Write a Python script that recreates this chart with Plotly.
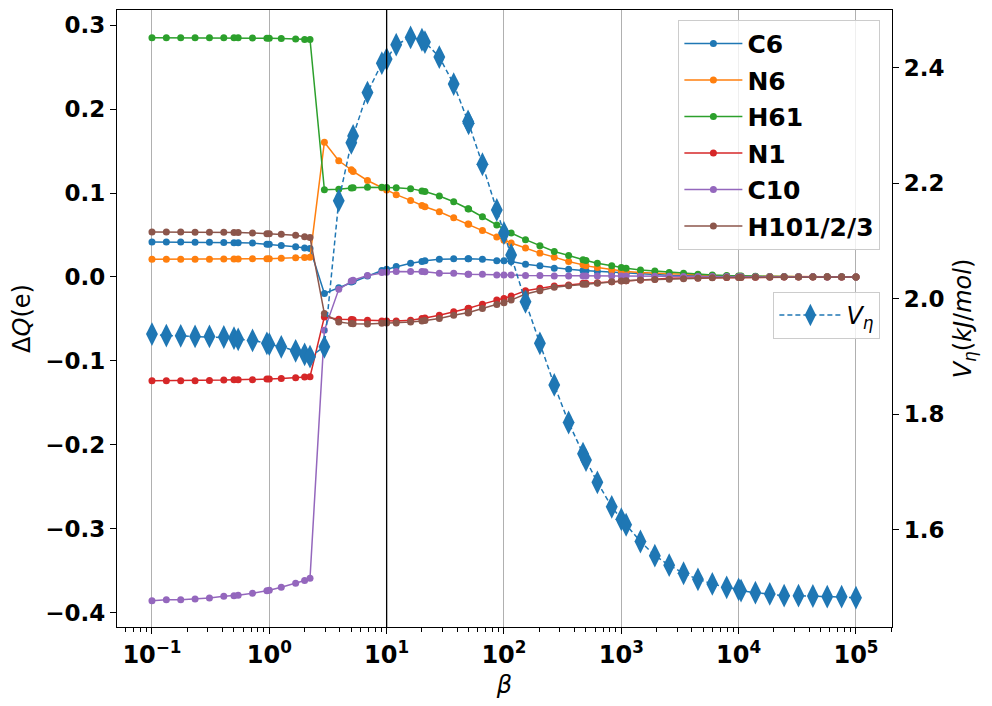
import plotly.graph_objects as go

beta = [0.1, 0.1326, 0.1758, 0.2330, 0.3089, 0.4095, 0.5, 0.5429, 0.7197, 0.9541,
        1.0, 1.265, 1.677, 2.0, 2.223, 2.947, 3.907, 5.0, 5.179, 6.866,
        9.103, 10.0, 12.07, 16.00, 20.0, 21.21, 28.12, 37.28, 49.42, 50.0,
        65.51, 86.85, 100.0, 115.1, 152.6, 202.4, 268.3, 355.7, 471.5, 500.0,
        625.1, 828.6, 1000.0, 1099.0, 1456.0, 1931.0, 2560.0, 3393.0, 4498.0, 5964.0,
        7906.0, 10000.0, 10481.0, 13895.0, 18421.0, 24421.0, 32375.0, 42919.0, 56899.0, 75431.0,
        100000.0]

q_c6 = [0.0416, 0.0416, 0.0416, 0.0414, 0.0412, 0.0410, 0.0408, 0.0408, 0.0404, 0.0390,
        0.0390, 0.0376, 0.0360, 0.0345, 0.0340, -0.0196, -0.0128, -0.0060, -0.0052, 0.0010,
        0.0076, 0.0092, 0.0124, 0.0164, 0.0184, 0.0192, 0.0212, 0.0216, 0.0216, 0.0216,
        0.0212, 0.0194, 0.0192, 0.0184, 0.0152, 0.0132, 0.0104, 0.0092, 0.0076, 0.0074,
        0.0064, 0.0052, 0.0044, 0.0042, 0.0036, 0.0024, 0.0020, 0.0016, 0.0012, 0.0010,
        0.0008, 0.0006, 0.0006, 0.0004, 0.0003, 0.0002, 0.0002, 0.0001, 0.0001, 0.0001,
        0.0]
q_n6 = [0.0212, 0.0212, 0.0212, 0.0212, 0.0212, 0.0214, 0.0214, 0.0214, 0.0216, 0.0218,
        0.0218, 0.0224, 0.0228, 0.0232, 0.0236, 0.1605, 0.1384, 0.1277, 0.1257, 0.1149,
        0.1064, 0.1036, 0.0980, 0.0912, 0.0852, 0.0836, 0.0776, 0.0704, 0.0632, 0.0628,
        0.0552, 0.0476, 0.0436, 0.0404, 0.0344, 0.0284, 0.0236, 0.0184, 0.0144, 0.0132,
        0.0112, 0.0084, 0.0072, 0.0064, 0.0052, 0.0044, 0.0036, 0.0028, 0.0022, 0.0016,
        0.0012, 0.0009, 0.0009, 0.0006, 0.0004, 0.0003, 0.0002, 0.0001, 0.0001, 0.0,
        0.0]
q_h61 = [0.2850, 0.2850, 0.2850, 0.2850, 0.2850, 0.2850, 0.2848, 0.2848, 0.2845, 0.2843,
         0.2843, 0.2840, 0.2835, 0.2830, 0.2828, 0.1040, 0.1045, 0.1060, 0.1064, 0.1070,
         0.1068, 0.1066, 0.1064, 0.1052, 0.1024, 0.1017, 0.0964, 0.0896, 0.0812, 0.0808,
         0.0716, 0.0620, 0.0564, 0.0524, 0.0444, 0.0372, 0.0304, 0.0256, 0.0204, 0.0196,
         0.0164, 0.0132, 0.0112, 0.0104, 0.0084, 0.0072, 0.0052, 0.0044, 0.0032, 0.0024,
         0.0016, 0.0012, 0.0012, 0.0008, 0.0006, 0.0004, 0.0003, 0.0002, 0.0001, 0.0001,
         0.0]
q_n1 = [-0.1237, -0.1237, -0.1237, -0.1237, -0.1233, -0.1229, -0.1225, -0.1225, -0.1225, -0.1217,
        -0.1217, -0.1209, -0.1201, -0.1193, -0.1189, -0.0476, -0.0504, -0.0508, -0.0510, -0.0516,
        -0.0524, -0.0524, -0.0524, -0.0516, -0.0496, -0.0488, -0.0456, -0.0416, -0.0376, -0.0372,
        -0.0324, -0.0276, -0.0256, -0.0228, -0.0164, -0.0136, -0.0108, -0.0096, -0.0076, -0.0074,
        -0.0068, -0.0056, -0.0046, -0.0044, -0.0036, -0.0028, -0.0016, -0.0014, -0.0012, -0.0008,
        -0.0006, -0.0004, -0.0004, -0.0003, -0.0002, -0.0002, -0.0001, -0.0001, -0.0001, 0.0,
        0.0]
q_c10 = [-0.3857, -0.3845, -0.3845, -0.3837, -0.3825, -0.3805, -0.3797, -0.3793, -0.3769, -0.3737,
         -0.3733, -0.3697, -0.3649, -0.3617, -0.3589, -0.0636, -0.0148, -0.0048, -0.0040, 0.0016,
         0.0052, 0.0056, 0.0064, 0.0064, 0.0064, 0.0062, 0.0044, 0.0044, 0.0032, 0.0032,
         0.0032, 0.0024, 0.0024, 0.0024, 0.0016, 0.0016, 0.0012, 0.0012, 0.0012, 0.0012,
         0.0010, 0.0010, 0.0010, 0.0010, 0.0009, 0.0008, 0.0008, 0.0006, 0.0005, 0.0004,
         0.0004, 0.0003, 0.0003, 0.0002, 0.0002, 0.0001, 0.0001, 0.0001, 0.0, 0.0,
         0.0]
q_h101 = [0.0536, 0.0536, 0.0536, 0.0532, 0.0532, 0.0532, 0.0528, 0.0528, 0.0524, 0.0516,
          0.0516, 0.0508, 0.0496, 0.0480, 0.0470, -0.0436, -0.0536, -0.0556, -0.0558, -0.0560,
          -0.0552, -0.0548, -0.0548, -0.0536, -0.0524, -0.0520, -0.0496, -0.0456, -0.0428, -0.0424,
          -0.0376, -0.0328, -0.0308, -0.0276, -0.0204, -0.0164, -0.0124, -0.0104, -0.0088, -0.0086,
          -0.0076, -0.0056, -0.0048, -0.0046, -0.0036, -0.0030, -0.0028, -0.0020, -0.0016, -0.0010,
          -0.0008, -0.0006, -0.0006, -0.0004, -0.0003, -0.0002, -0.0002, -0.0001, -0.0001, 0.0,
          0.0]
v_eta = [1.939, 1.9365, 1.936, 1.935, 1.935, 1.934, 1.932, 1.930, 1.928, 1.923,
         1.9215, 1.917, 1.910, 1.904, 1.900, 1.917, 2.170, 2.270, 2.282, 2.357,
         2.408, 2.415, 2.440, 2.4525, 2.4485, 2.4445, 2.4185, 2.3717, 2.307, 2.304,
         2.233, 2.154, 2.114, 2.076, 1.995, 1.923, 1.851, 1.786, 1.732, 1.721,
         1.6825, 1.640, 1.6185, 1.609, 1.580, 1.5555, 1.539, 1.525, 1.5146, 1.5065,
         1.5007, 1.4973, 1.495, 1.4914, 1.4892, 1.4863, 1.4863, 1.4857, 1.4845, 1.4845,
         1.4828]

series_names = ["C6", "N6", "H61", "N1", "C10", "H101/2/3"]
series_vals = [q_c6, q_n6, q_h61, q_n1, q_c10, q_h101]
colors = ["#1f77b4", "#ff7f0e", "#2ca02c", "#d62728", "#9467bd", "#8c564b"]

x_tickvals = [0.1, 1, 10, 100, 1000, 10000, 100000]
x_ticktext = ["10<sup>−1</sup>", "10<sup>0</sup>", "10<sup>1</sup>", "10<sup>2</sup>",
              "10<sup>3</sup>", "10<sup>4</sup>", "10<sup>5</sup>"]
y_tickvals = [0.3, 0.2, 0.1, 0.0, -0.1, -0.2, -0.3, -0.4]
y_ticktext = ["0.3", "0.2", "0.1", "0.0", "−0.1", "−0.2", "−0.3", "−0.4"]
y2_tickvals = [1.6, 1.8, 2.0, 2.2, 2.4]
y2_ticktext = ["1.6", "1.8", "2.0", "2.2", "2.4"]
ref_beta = 10

minor_vals = [m * 10 ** e for e in range(-2, 6) for m in range(2, 10)]

FONT = "DejaVu Sans"
TICK = 23
fig = go.Figure()

for name, vals, col in zip(series_names, series_vals, colors):
    fig.add_trace(go.Scatter(
        x=beta, y=vals, name=name, mode="lines+markers",
        line=dict(color=col, width=1.5),
        marker=dict(symbol="circle", size=7, color=col),
        legend="legend", legendgroup=name, yaxis="y"))

fig.add_trace(go.Scatter(
    x=beta, y=v_eta, name="<i>V</i><sub><i>η</i></sub>", mode="lines+markers",
    line=dict(color="#1f77b4", width=1.5, dash="5px,3px"),
    marker=dict(symbol="diamond-tall", size=17, color="#1f77b4"),
    legend="legend2", yaxis="y2"))

fig.add_shape(type="line", xref="x", yref="paper", x0=ref_beta, x1=ref_beta, y0=0, y1=1,
              line=dict(color="black", width=1.3), layer="above")

fig.update_layout(
    width=984, height=698,
    margin=dict(l=109, r=100, t=2, b=79, autoexpand=False),
    paper_bgcolor="white", plot_bgcolor="white",
    font=dict(family=FONT, color="black"),
    showlegend=True,
    xaxis=dict(
        type="log", range=[-1.298, 5.307], automargin=False,
        tickmode="array", tickvals=x_tickvals, ticktext=x_ticktext,
        tickfont=dict(size=24, family=FONT, weight="bold"),
        ticks="outside", ticklen=6, tickwidth=1.2, tickcolor="black",
        showgrid=True, gridcolor="#b0b0b0", gridwidth=1,
        showline=True, linecolor="black", linewidth=1.3, mirror=True,
        zeroline=False,
        minor=dict(tickmode="array", tickvals=minor_vals, ticks="outside",
                   ticklen=3.5, tickcolor="black", tickwidth=1, showgrid=False),
        title=dict(text="<i>β</i>", font=dict(size=24, family=FONT), standoff=8),
    ),
    yaxis=dict(
        range=[-0.417, 0.318], automargin=False,
        tickmode="array", tickvals=y_tickvals, ticktext=y_ticktext,
        tickfont=dict(size=TICK, family=FONT, weight="bold"),
        ticks="outside", ticklen=6, tickwidth=1.2, tickcolor="black",
        showgrid=False, zeroline=False,
        showline=True, linecolor="black", linewidth=1.3, mirror=True,
        title=dict(text="Δ<i>Q</i>(e)", font=dict(size=24, family=FONT), standoff=10),
    ),
    yaxis2=dict(
        overlaying="y", side="right", automargin=False,
        range=[1.432, 2.5],
        tickmode="array", tickvals=y2_tickvals, ticktext=y2_ticktext,
        tickfont=dict(size=TICK, family=FONT, weight="bold"),
        ticks="outside", ticklen=6, tickwidth=1.2, tickcolor="black",
        showgrid=False, zeroline=False,
        showline=True, linecolor="black", linewidth=1.3,
        title=dict(text="<i>V</i><sub><i>η</i></sub>(<i>kJ</i>/<i>mol</i>)",
                   font=dict(size=24, family=FONT), standoff=10),
    ),
    legend=dict(
        x=0.985, y=0.984, xanchor="right", yanchor="top",
        bgcolor="rgba(255,255,255,0.8)", bordercolor="#cccccc", borderwidth=1,
        font=dict(size=25, family=FONT, weight="bold"),
        itemwidth=58, tracegroupgap=1,
    ),
    legend2=dict(
        x=0.985, y=0.543, xanchor="right", yanchor="top",
        bgcolor="rgba(255,255,255,0.8)", bordercolor="#cccccc", borderwidth=1,
        font=dict(size=24, family=FONT),
        itemwidth=62,
    ),
)

fig.write_html("out.html")
